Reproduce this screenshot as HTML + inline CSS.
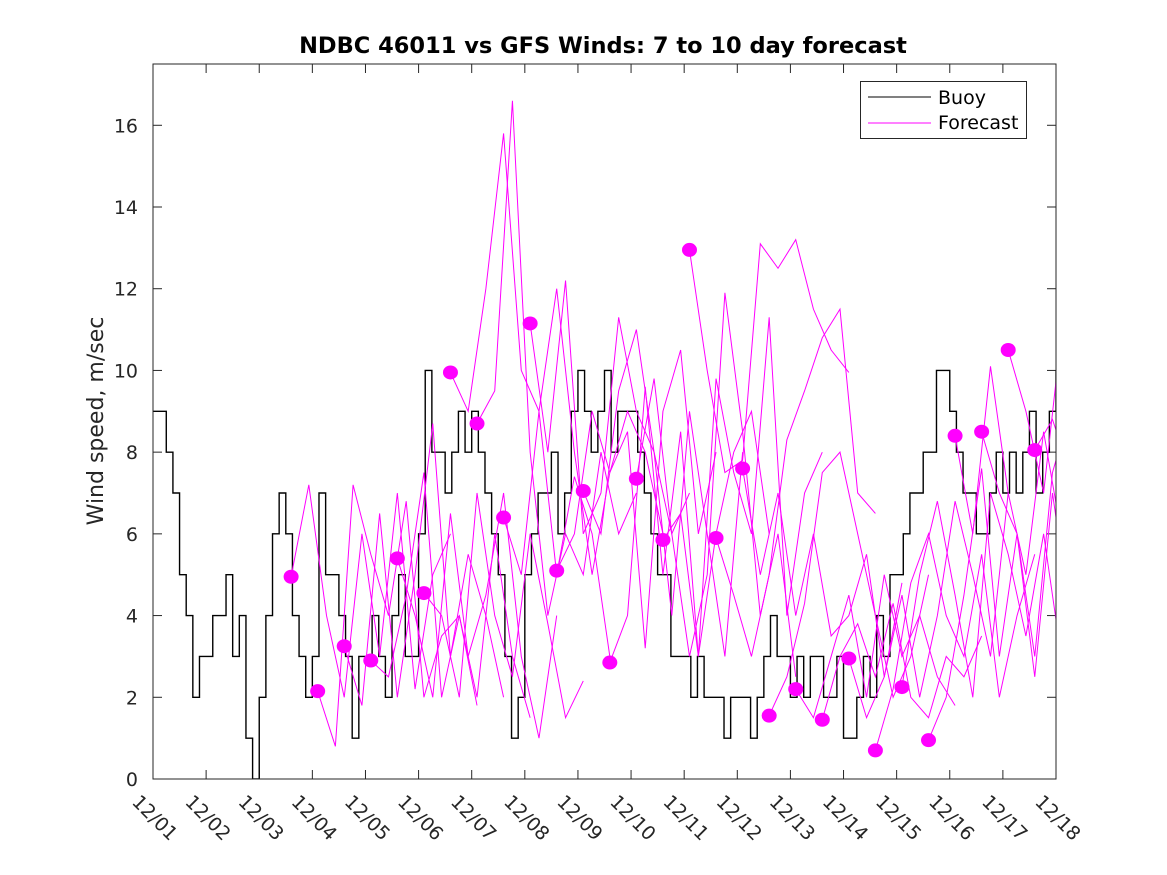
<!DOCTYPE html>
<html><head><meta charset="utf-8"><style>
body{margin:0;background:#fff;}
svg{display:block;font-family:"DejaVu Sans","Liberation Sans",sans-serif;}
</style></head><body>
<svg id="chart" width="1167" height="875" viewBox="0 0 1167 875" xmlns="http://www.w3.org/2000/svg">
<defs><clipPath id="clip"><rect x="153" y="64" width="903" height="715"/></clipPath></defs>
<rect x="0" y="0" width="1167" height="875" fill="#fff"/>
<text x="603" y="53" text-anchor="middle" font-size="22.5" font-weight="bold" fill="#000">NDBC 46011 vs GFS Winds: 7 to 10 day forecast</text>
<text transform="translate(103,421) rotate(-90)" text-anchor="middle" font-size="22" fill="#262626">Wind speed, m/sec</text>
<g id="axes"></g>
<g id="plot" clip-path="url(#clip)"></g>
<rect x="153" y="64" width="903" height="715" fill="none" stroke="#262626" stroke-width="1"/>
<g>
<rect x="860.5" y="81.5" width="166" height="57" fill="#fff" stroke="#262626"/>
<line x1="868" y1="97" x2="931" y2="97" stroke="#000"/>
<text x="938" y="104" font-size="19" fill="#000">Buoy</text>
<line x1="868" y1="123" x2="931" y2="123" stroke="#ff00ff"/>
<text x="938" y="129" font-size="19" fill="#000">Forecast</text>
</g>
</svg>
<script>
const xTickLabels=["12/01","12/02","12/03","12/04","12/05","12/06","12/07","12/08","12/09","12/10","12/11","12/12","12/13","12/14","12/15","12/16","12/17","12/18"];
const yTicks=[0,2,4,6,8,10,12,14,16];
const buoyStepDays=0.125;
const buoyValues=[
9,9,8,7,5,4,2,3,
3,4,4,5,3,4,1,0,
2,4,6,7,6,4,3,2,
3,7,5,5,4,3,1,3,
3,4,3,2,4,5,3,3,
6,10,8,8,7,8,9,8,
9,8,7,6,5,3,1,2,
5,6,7,7,8,6,7,9,
10,9,8,9,10,8,9,9,
9,8,7,6,5,5,3,3,
3,2,3,2,2,2,1,2,
2,2,1,2,3,4,3,3,
2,3,2,3,3,2,2,3,
1,1,2,3,2,4,3,5,
5,6,7,7,8,8,10,10,
9,8,7,7,6,6,7,8,
7,8,7,8,9,7,8,9,
10];
const forecastStarts=[2.6,3.1,3.6,4.1,4.6,5.1,5.6,6.1,6.6,7.1,7.6,8.1,8.6,9.1,9.6,10.1,10.6,11.1,11.6,12.1,12.6,13.1,13.6,14.1,14.6,15.1,15.6,16.1,16.6];
const forecastStepDays=1/3;
const forecastValues=[
[4.95,7.2,4,2,6,3,7,2.2,5,6],
[2.15,0.8,7.2,5.5,4,6.8,2,3.5,4,1.8],
[3.25,1.8,6.5,2,5,8.7,3,5.5,4,2],
[2.9,2.5,4.5,7.5,2,4,2,6,3,1.5],
[5.4,4,2,6.5,3,4.5,7,3,1,4],
[4.55,4,2,7,4,2.5,6,3.8,1.5,2.4],
[9.95,9,12,15.8,10,9,5,7.4,6,3],
[8.7,9.5,16.6,8,4,6,5,8,6,7],
[6.4,5,9,12,8,5,7.5,9,8,6],
[11.15,8,12.2,6,7,11.3,9,8,6,7],
[5.1,6,9,7.5,8.5,3.2,9,10.5,6,8],
[7.05,6,9.5,11,8,4,9,6,3,8],
[2.85,4,9.6,5,8.5,3,6,8,9,6],
[7.35,9.8,6,3,5,11.9,8.5,4,6,2.5],
[5.85,6.5,3,9.8,7.5,6,11.3,4,7,8],
[12.95,10,7.5,7.8,13.1,12.5,13.2,11.5,10.5,9.95],
[5.9,4.5,3,5,8.3,9.5,10.8,11.5,7,6.5],
[7.6,5,7,4,6,3.5,4,5.5,2.5,4.8],
[1.55,2.5,4.3,7.5,8,6,4,2,3,5],
[2.2,1.5,3,4.5,2,5,3,4,2.5,1.8],
[1.45,3,3.8,2.5,4.3,2,1.5,3,2.5,3.5],
[2.95,1.5,2.5,4.5,2,4,6.8,5,3,7],
[0.7,2.2,4.8,6,4,3,5.5,2,4,5.5],
[2.25,5,6.8,4.5,2,7,5.5,3.5,6,3],
[0.95,2,4.5,7.6,3,6,2.5,7,4,1.5],
[8.4,6,10.1,7,5,8.5,6,4,9,3],
[8.5,7,6,3,7.5,9,5,8,2.5,6],
[10.5,9,7,10.9,8,6,9,7,8,9],
[8.05,8.8,7.5,8,9,8,7,8,9,8]
];
const X0=153,X1=1056,Y0=779,Y1=64,DAYS=17,YMAX=17.5;
const xs=d=>X0+(X1-X0)*d/DAYS;
const ys=v=>Y0-(Y0-Y1)*v/YMAX;
const NS="http://www.w3.org/2000/svg";
const axes=document.getElementById('axes');
const plot=document.getElementById('plot');
function mk(tag,attrs,parent){const e=document.createElementNS(NS,tag);for(const k in attrs)e.setAttribute(k,attrs[k]);parent.appendChild(e);return e;}
xTickLabels.forEach((lab,i)=>{
  const x=xs(i);
  const t1=mk('line',{x1:x,y1:Y0,x2:x,y2:Y0-9,stroke:'#262626'},axes);
  
  
  const t2=mk('line',{x1:x,y1:Y1,x2:x,y2:Y1+9,stroke:'#262626'},axes);
  
  
  const tx=mk('text',{transform:`translate(${x-22},${Y0+24}) rotate(45)`,'font-size':19,fill:'#262626'},axes);
  tx.textContent=lab;
  
  
});
yTicks.forEach(v=>{
  const y=ys(v);
  const t1=mk('line',{x1:X0,y1:y,x2:X0+9,y2:y,stroke:'#262626'},axes);
  
  
  const t2=mk('line',{x1:X1,y1:y,x2:X1-9,y2:y,stroke:'#262626'},axes);
  
  
  const tx=mk('text',{x:X0-15,y:y+7,'text-anchor':'end','font-size':19,fill:'#262626'},axes);
  tx.textContent=v;
  
  
});
let d='';
buoyValues.forEach((v,i)=>{
  const x=xs(i*buoyStepDays),y=ys(v);
  if(i===0)d+=`M${x},${y}`;else d+=`V${y}`;
  d+=`H${xs(Math.min((i+1)*buoyStepDays,DAYS))}`;
});
const bp=mk('path',{d:d,fill:'none',stroke:'#000','stroke-width':1.4},plot);


forecastValues.forEach((vals,k)=>{
  const s=forecastStarts[k];
  const pts=vals.map((v,j)=>`${xs(s+j*forecastStepDays)},${ys(v)}`).join(' ');
  const pl=mk('polyline',{points:pts,fill:'none',stroke:'#ff00ff','stroke-width':1},plot);
  
  
});
forecastValues.forEach((vals,k)=>{
  const c=mk('ellipse',{cx:xs(forecastStarts[k]),cy:ys(vals[0]),rx:7.5,ry:7,fill:'#ff00ff'},plot);
  
  
});
</script>
</body></html>
